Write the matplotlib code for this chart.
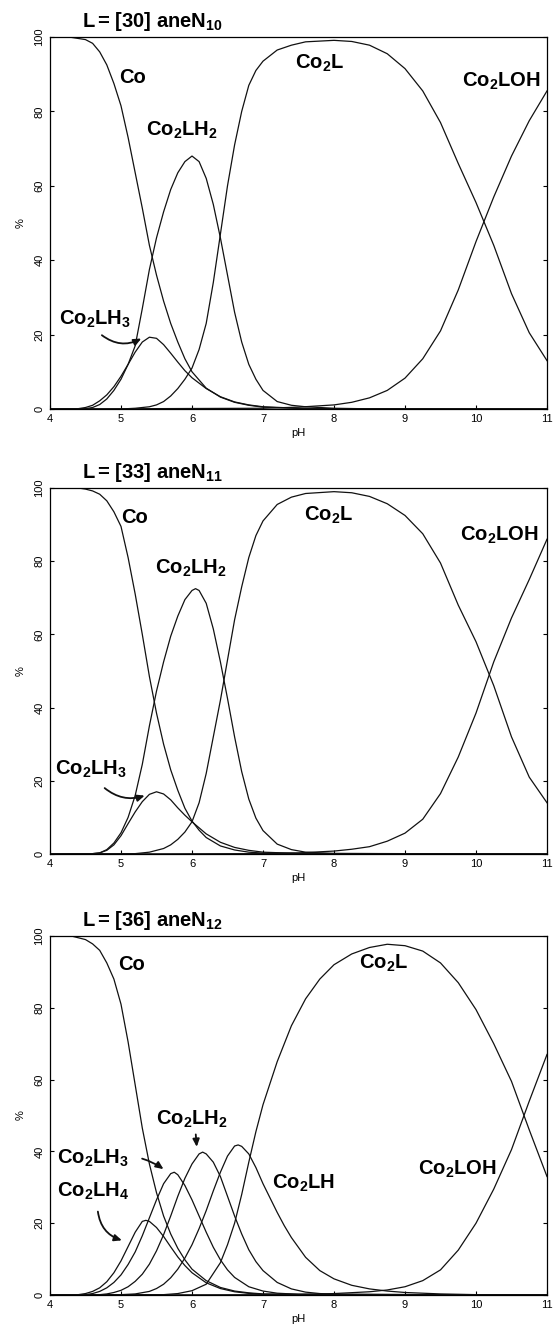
import matplotlib
matplotlib.use('Agg')
import matplotlib.pyplot as plt

plt.rcParams['font.family'] = ['Liberation Sans', 'DejaVu Sans']
plt.rcParams['mathtext.fontset'] = 'custom'
plt.rcParams['mathtext.rm'] = 'Liberation Sans:bold'
plt.rcParams['mathtext.bf'] = 'Liberation Sans:bold'
plt.rcParams['mathtext.default'] = 'rm'

# ---- panel 1 : L = [30]aneN10 ----
ph_co_30 = [4.0, 4.3, 4.5, 4.6, 4.7, 4.8, 4.9, 5.0, 5.1, 5.2, 5.3, 5.4, 5.5, 5.6, 5.7, 5.8, 5.9, 6.0, 6.2, 6.4, 6.6, 6.8, 7.0, 7.5, 8.0, 11.0]
co_30 = [100, 99.9, 99.3, 98.3, 96, 92.5, 87.5, 81.5, 73, 63.5, 54, 44, 36, 29, 23, 18, 13.5, 10, 5.6, 3.2, 1.8, 1.0, 0.5, 0.15, 0.05, 0]
ph_lh3_30 = [4.0, 4.4, 4.5, 4.6, 4.7, 4.8, 4.9, 5.0, 5.1, 5.2, 5.3, 5.4, 5.5, 5.6, 5.7, 5.8, 5.9, 6.0, 6.2, 6.4, 6.6, 6.8, 7.0, 7.5, 8.0, 11.0]
lh3_30 = [0, 0.1, 0.4, 1.0, 2.2, 3.8, 6.0, 8.8, 12, 15.3, 18, 19.3, 19, 17.3, 15, 12.6, 10.3, 8.4, 5.5, 3.3, 1.9, 1.1, 0.6, 0.2, 0.05, 0]
ph_lh2_30 = [4.0, 4.5, 4.6, 4.7, 4.8, 4.9, 5.0, 5.1, 5.2, 5.3, 5.4, 5.5, 5.6, 5.7, 5.8, 5.9, 6.0, 6.1, 6.2, 6.3, 6.4, 6.5, 6.6, 6.7, 6.8, 6.9, 7.0, 7.2, 7.4, 7.6, 8.0, 8.5, 11.0]
lh2_30 = [0, 0.1, 0.4, 1.2, 2.7, 5, 8, 12, 17, 27, 37.5, 46, 53, 59, 63.5, 66.5, 68, 66.5, 62, 55, 46, 36, 26, 18, 12, 8, 5, 2, 1, 0.6, 0.2, 0.05, 0]
ph_l_30 = [4.0, 5.0, 5.2, 5.4, 5.5, 5.6, 5.7, 5.8, 5.9, 6.0, 6.1, 6.2, 6.3, 6.4, 6.5, 6.6, 6.7, 6.8, 6.9, 7.0, 7.2, 7.4, 7.6, 8.0, 8.25, 8.5, 8.75, 9.0, 9.25, 9.5, 9.75, 10.0, 10.25, 10.5, 10.75, 11.0]
l_30 = [0, 0, 0.2, 0.6, 1.1, 2, 3.5, 5.5, 8, 11, 16, 23, 34, 47, 60, 71, 80, 87, 91, 93.5, 96.5, 97.8, 98.7, 99.1, 98.8, 97.8, 95.5, 91.5, 85.5, 77, 66, 55.5, 44, 31, 20.5, 13]
ph_loh_30 = [4.0, 7.0, 7.5, 8.0, 8.25, 8.5, 8.75, 9.0, 9.25, 9.5, 9.75, 10.0, 10.25, 10.5, 10.75, 11.0]
loh_30 = [0, 0.2, 0.5, 1.1, 1.8, 3, 5, 8.3, 13.5, 21, 32, 45, 57, 68, 77.5, 85.5]

# ---- panel 2 : L = [33]aneN11 ----
ph_co_33 = [4.0, 4.4, 4.5, 4.6, 4.7, 4.8, 4.9, 5.0, 5.1, 5.2, 5.3, 5.4, 5.5, 5.6, 5.7, 5.8, 5.9, 6.0, 6.1, 6.2, 6.4, 6.6, 6.8, 7.0, 8.0, 11.0]
co_33 = [100, 100, 99.7, 99.2, 98.3, 96.5, 93.5, 89.5, 81, 71, 60, 48.5, 38.5, 30, 23, 17.4, 12.5, 9, 6.5, 4.5, 2.2, 1.1, 0.5, 0.25, 0.05, 0]
ph_lh3_33 = [4.0, 4.6, 4.7, 4.8, 4.9, 5.0, 5.1, 5.2, 5.3, 5.4, 5.5, 5.6, 5.7, 5.8, 5.9, 6.0, 6.2, 6.4, 6.6, 6.8, 7.0, 7.5, 11.0]
lh3_33 = [0, 0.1, 0.3, 1, 2.5, 5, 8.3, 11.5, 14.3, 16.3, 17, 16.4, 14.8, 12.6, 10.6, 8.8, 5.5, 3.2, 1.8, 1.0, 0.5, 0.15, 0]
ph_lh2_33 = [4.0, 4.6, 4.7, 4.8, 4.9, 5.0, 5.1, 5.2, 5.3, 5.4, 5.5, 5.6, 5.7, 5.8, 5.9, 6.0, 6.05, 6.1, 6.2, 6.3, 6.4, 6.5, 6.6, 6.7, 6.8, 6.9, 7.0, 7.2, 7.4, 7.6, 8.0, 11.0]
lh2_33 = [0, 0.1, 0.3, 1.2, 3, 5.8, 10, 16, 24.5, 35, 44.5, 52.5, 59.5, 65, 69.5, 72, 72.5, 72, 68.5, 61.5, 52.5, 42.5, 32, 22.5, 15, 9.8, 6.4, 2.7, 1.2, 0.5, 0.15, 0]
ph_l_33 = [4.0, 5.2, 5.4, 5.6, 5.7, 5.8, 5.9, 6.0, 6.1, 6.2, 6.3, 6.4, 6.5, 6.6, 6.7, 6.8, 6.9, 7.0, 7.2, 7.4, 7.6, 8.0, 8.25, 8.5, 8.75, 9.0, 9.25, 9.5, 9.75, 10.0, 10.25, 10.5, 10.75, 11.0]
l_33 = [0, 0.1, 0.5, 1.5, 2.5, 4, 6, 8.8, 14, 22, 32, 42, 53, 64, 73, 81, 87, 91, 95.5, 97.5, 98.5, 99, 98.7, 97.7, 95.7, 92.5, 87.5, 79.5, 68, 58, 46, 32, 21, 14]
ph_loh_33 = [4.0, 7.0, 7.5, 8.0, 8.25, 8.5, 8.75, 9.0, 9.25, 9.5, 9.75, 10.0, 10.25, 10.5, 10.75, 11.0]
loh_33 = [0, 0.1, 0.3, 0.8, 1.3, 2, 3.5, 5.7, 9.5, 16.5, 26.5, 38.5, 52.5, 64.5, 75, 86]

# ---- panel 3 : L = [36]aneN12 ----
ph_co_36 = [4.0, 4.3, 4.4, 4.5, 4.6, 4.7, 4.8, 4.9, 5.0, 5.1, 5.2, 5.3, 5.4, 5.5, 5.6, 5.7, 5.8, 5.9, 6.0, 6.2, 6.4, 6.6, 6.8, 7.0, 8.0, 11.0]
co_36 = [100, 100, 99.5, 99, 97.8, 96, 92.5, 88, 81, 70.5, 58.5, 46.5, 36.5, 28.5, 22, 17, 13, 9.8, 7.2, 4, 2.1, 1.1, 0.6, 0.3, 0.05, 0]
ph_lh4_36 = [4.0, 4.4, 4.5, 4.6, 4.7, 4.8, 4.9, 5.0, 5.1, 5.2, 5.3, 5.35, 5.4, 5.5, 5.6, 5.7, 5.8, 5.9, 6.0, 6.2, 6.4, 6.6, 6.8, 7.0, 11.0]
lh4_36 = [0, 0.1, 0.4, 1, 2, 3.7, 6.2, 9.5, 13.5, 17.5, 20.5, 20.8, 20.5, 18.8, 16.3, 13.4, 10.6, 8.2, 6.2, 3.4, 1.8, 0.9, 0.45, 0.2, 0]
ph_lh3_36 = [4.0, 4.5, 4.6, 4.7, 4.8, 4.9, 5.0, 5.1, 5.2, 5.3, 5.4, 5.5, 5.6, 5.7, 5.75, 5.8, 5.9, 6.0, 6.1, 6.2, 6.3, 6.4, 6.5, 6.6, 6.8, 7.0, 7.2, 7.5, 11.0]
lh3_36 = [0, 0.1, 0.4, 1, 2, 3.5, 5.6, 8.5, 12, 16.5, 21.5, 26.5, 31, 33.8, 34.2, 33.5, 30.5, 26.5, 22, 17.5, 13.3, 9.8, 7, 4.9, 2.3, 1.1, 0.5, 0.2, 0]
ph_lh2_36 = [4.0, 4.7, 4.8, 4.9, 5.0, 5.1, 5.2, 5.3, 5.4, 5.5, 5.6, 5.7, 5.8, 5.9, 6.0, 6.1, 6.15, 6.2, 6.3, 6.4, 6.5, 6.6, 6.7, 6.8, 6.9, 7.0, 7.2, 7.4, 7.6, 7.8, 8.0, 11.0]
lh2_36 = [0, 0.1, 0.3, 0.7, 1.3, 2.3, 3.8, 5.8, 8.6, 12.3, 16.8, 22, 27.5, 32.5, 36.5, 39.3, 39.8, 39.3, 37, 33, 27.5, 22, 17, 12.6, 9.3, 6.8, 3.5, 1.7, 0.8, 0.4, 0.2, 0]
ph_lh_36 = [4.0, 5.0, 5.2, 5.4, 5.5, 5.6, 5.7, 5.8, 5.9, 6.0, 6.1, 6.2, 6.3, 6.4, 6.5, 6.6, 6.65, 6.7, 6.8, 6.9, 7.0, 7.1, 7.2, 7.3, 7.4, 7.6, 7.8, 8.0, 8.25, 8.5, 8.75, 9.0, 9.5, 10.0, 11.0]
lh_36 = [0, 0.1, 0.3, 1, 1.8, 3, 4.8, 7.2, 10.3, 14, 18.5, 23.5, 29, 34.2, 38.7, 41.5, 41.8, 41.4, 39.3, 35.5, 31, 27, 23, 19.3, 16, 10.5, 6.8, 4.5, 2.7, 1.7, 1.1, 0.7, 0.3, 0.1, 0]
ph_l_36 = [4.0, 5.6, 5.8, 6.0, 6.2, 6.4, 6.5, 6.6, 6.7, 6.8, 6.9, 7.0, 7.2, 7.4, 7.6, 7.8, 8.0, 8.25, 8.5, 8.75, 9.0, 9.25, 9.5, 9.75, 10.0, 10.25, 10.5, 10.75, 11.0]
l_36 = [0, 0.1, 0.4, 1.2, 3, 9, 14, 20, 28, 37, 45.5, 53, 65, 75, 82.5, 88, 92, 95, 96.8, 97.7, 97.3, 95.8, 92.5, 87, 79.5, 70, 59.5, 46, 33]
ph_loh_36 = [4.0, 7.5, 8.0, 8.5, 8.75, 9.0, 9.25, 9.5, 9.75, 10.0, 10.25, 10.5, 10.75, 11.0]
loh_36 = [0, 0.1, 0.4, 0.9, 1.4, 2.3, 4, 7, 12.5, 20, 29.5, 40.5, 54, 67]

PH_TICKS = [4, 5, 6, 7, 8, 9, 10, 11]
PCT_TICKS = [0, 20, 40, 60, 80, 100]

TITLES = [r'L$\,$= [30] aneN$_{10}$', r'L$\,$= [33] aneN$_{11}$', r'L$\,$= [36] aneN$_{12}$']

CO = 'Co'
CO2L = r'Co$_2$L'
CO2LH = r'Co$_2$LH'
CO2LH2 = r'Co$_2$LH$_2$'
CO2LH3 = r'Co$_2$LH$_3$'
CO2LH4 = r'Co$_2$LH$_4$'
CO2LOH = r'Co$_2$LOH'

panels = [
    dict(curves=[(ph_co_30, co_30), (ph_lh3_30, lh3_30), (ph_lh2_30, lh2_30),
                 (ph_l_30, l_30), (ph_loh_30, loh_30)],
         labels=[(CO, 4.97, 89), (CO2LH2, 5.35, 75), (CO2L, 7.45, 93),
                 (CO2LOH, 9.8, 88), (CO2LH3, 4.12, 24)],
         arrows=[((4.7, 20.3), (5.32, 19.3), 0.35)]),
    dict(curves=[(ph_co_33, co_33), (ph_lh3_33, lh3_33), (ph_lh2_33, lh2_33),
                 (ph_l_33, l_33), (ph_loh_33, loh_33)],
         labels=[(CO, 5.0, 92), (CO2LH2, 5.48, 78), (CO2L, 7.58, 92.5),
                 (CO2LOH, 9.77, 87), (CO2LH3, 4.07, 23)],
         arrows=[((4.74, 18.5), (5.37, 16.2), 0.3)]),
    dict(curves=[(ph_co_36, co_36), (ph_lh4_36, lh4_36), (ph_lh3_36, lh3_36),
                 (ph_lh2_36, lh2_36), (ph_lh_36, lh_36), (ph_l_36, l_36),
                 (ph_loh_36, loh_36)],
         labels=[(CO, 4.96, 92), (CO2L, 8.35, 92.5), (CO2LH2, 5.5, 49),
                 (CO2LH3, 4.1, 38), (CO2LH4, 4.1, 29), (CO2LH, 7.12, 31),
                 (CO2LOH, 9.18, 35)],
         arrows=[((4.67, 24), (5.05, 15), 0.35), ((5.26, 38.2), (5.63, 34.6), -0.1),
                 ((6.05, 45.5), (6.07, 40.5), 0.0)]),
]

# axes boxes in pixels: (top, bottom), left/right shared
BOXES = [(37, 409), (488, 854), (936, 1295)]
W, H = 557, 1330
LEFT, RIGHT = 50, 547

fig = plt.figure(figsize=(W / 100, H / 100), dpi=100)

for (top, bot), p, title in zip(BOXES, panels, TITLES):
    ax = fig.add_axes([LEFT / W, 1 - bot / H, (RIGHT - LEFT) / W, (bot - top) / H])
    for ph, pct in p['curves']:
        ax.plot(ph, pct, color='#111111', lw=0.9)
    for txt, x, y in p['labels']:
        ax.text(x, y, txt, fontsize=14.5, fontweight='bold', ha='left', va='center')
    for start, tip, rad in p['arrows']:
        ax.annotate('', xy=tip, xytext=start,
                    arrowprops=dict(arrowstyle='-|>,head_length=0.45,head_width=0.2',
                                    connectionstyle='arc3,rad=%s' % rad,
                                    color='#111111', lw=1.3))
    ax.text(4.45, 101.0, title, fontsize=14.5, fontweight='bold', ha='left',
            va='bottom', clip_on=False)
    ax.set_xlim(4, 11)
    ax.set_ylim(0, 100)
    ax.set_xticks(PH_TICKS)
    ax.set_yticks(PCT_TICKS)
    ax.tick_params(axis='both', direction='in', length=3, width=0.8,
                   labelsize=8, right=True)
    ax.tick_params(axis='y', pad=4)
    for lab in ax.get_yticklabels():
        lab.set_rotation(90)
        lab.set_va('center')
    ax.set_xlabel('pH', fontsize=8, labelpad=3)
    ax.set_ylabel('%', fontsize=8, labelpad=6)
    for s in ax.spines.values():
        s.set_linewidth(0.9)

fig.savefig('out.png', dpi=100)
